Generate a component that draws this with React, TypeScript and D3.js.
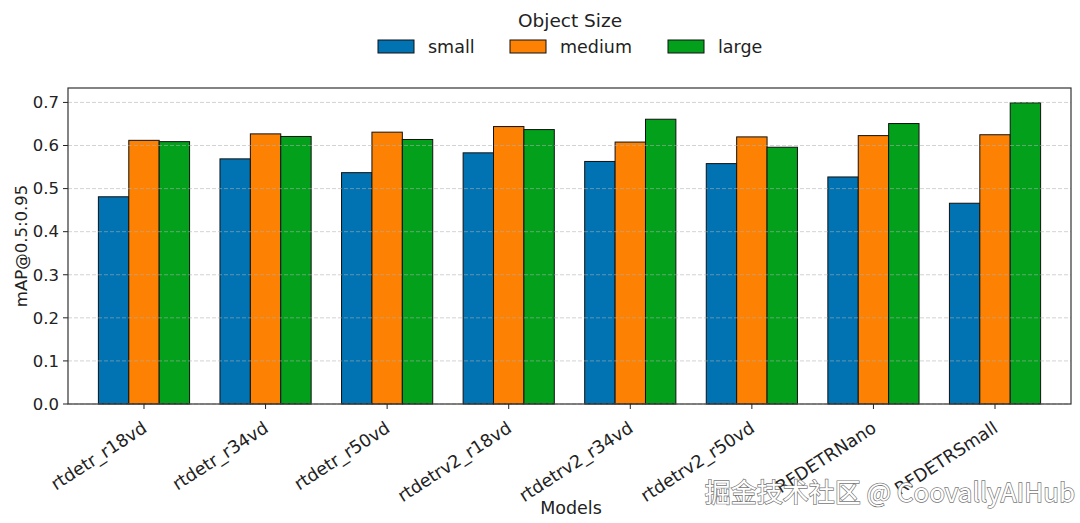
import React from "react";
import * as d3 from "d3";

const models = ["rtdetr_r18vd", "rtdetr_r34vd", "rtdetr_r50vd", "rtdetrv2_r18vd", "rtdetrv2_r34vd", "rtdetrv2_r50vd", "RFDETRNano", "RFDETRSmall"];
const seriesNames = ["small", "medium", "large"];
const small = [0.481, 0.569, 0.537, 0.583, 0.563, 0.558, 0.527, 0.466];
const medium = [0.612, 0.627, 0.631, 0.644, 0.608, 0.620, 0.623, 0.625];
const large = [0.609, 0.621, 0.614, 0.637, 0.661, 0.596, 0.651, 0.699];
const yTicks = [0, 0.1, 0.2, 0.3, 0.4, 0.5, 0.6, 0.7];
const colors = ["#0173b2", "#fd8204", "#03a01c"];

const W = 1080, H = 523;
const L = 68, R = 1071, T = 88, B = 404;
const FONT = "DejaVu Sans, sans-serif";

export default function App() {
  const series = [small, medium, large];
  const x = d3.scaleLinear().domain([-0.625, 7.625]).range([L, R]);
  const y = d3.scaleLinear().domain([0, 0.7335]).range([B, T]);
  const bw = x(0.25) - x(0);
  return (
    <svg width={W} height={H} style={{ position: "absolute", left: 0, top: 0, background: "#fff" }}>
      <rect x={0} y={0} width={W} height={H} fill="#fff" />
      {series.map((vals, si) =>
        vals.map((v, i) => (
          <rect key={`${si}-${i}`} x={x(i + (si - 1) * 0.25) - bw / 2} y={y(v)} width={bw} height={y(0) - y(v)}
            fill={colors[si]} stroke="#111" strokeWidth={1} />
        ))
      )}
      {yTicks.map((t) => (
        <g key={t}>
          <line x1={L} x2={R} y1={y(t)} y2={y(t)} stroke="#b0b0b0" strokeOpacity={0.7} strokeDasharray="4,2" strokeWidth={0.8} />
          <line x1={L - 5} x2={L} y1={y(t)} y2={y(t)} stroke="#222" strokeWidth={1} />
          <text x={L - 9} y={y(t)} dy="0.35em" textAnchor="end" fontFamily={FONT} fontSize={16.5} fill="#222">{t.toFixed(1)}</text>
        </g>
      ))}
      <rect x={L} y={T} width={R - L} height={B - T} fill="none" stroke="#333" strokeWidth={1.2} />
      {models.map((m, i) => (
        <g key={m}>
          <line x1={x(i)} x2={x(i)} y1={B} y2={B + 5} stroke="#222" strokeWidth={1} />
          <text transform={`translate(${x(i) + 4},${B + 27}) rotate(-33)`} textAnchor="end"
            fontFamily={FONT} fontSize={17.5} fill="#222">{m}</text>
        </g>
      ))}
      <text transform={`translate(27,${(T + B) / 2}) rotate(-90)`} textAnchor="middle" fontFamily={FONT} fontSize={16.5} fill="#222">mAP@0.5:0.95</text>
      <text x={571} y={514} textAnchor="middle" fontFamily={FONT} fontSize={17.5} fill="#222">Models</text>
      <text x={570} y={27} textAnchor="middle" fontFamily={FONT} fontSize={18.5} fill="#222">Object Size</text>
      {seriesNames.map((n, i) => {
        const px = [378, 510, 668][i];
        return (
          <g key={n}>
            <rect x={px} y={40} width={36} height={13} fill={colors[i]} stroke="#111" strokeWidth={1} />
            <text x={px + 50} y={53} fontFamily={FONT} fontSize={17.5} fill="#222">{n}</text>
          </g>
        );
      })}
      <text x={1075} y={502} textAnchor="end" fontFamily="Noto Sans CJK SC, DejaVu Sans, sans-serif" fontSize={26}
        fill="#fff" stroke="#777" strokeWidth={1.4} paintOrder="stroke">掘金技术社区 @ CoovallyAIHub</text>
    </svg>
  );
}
